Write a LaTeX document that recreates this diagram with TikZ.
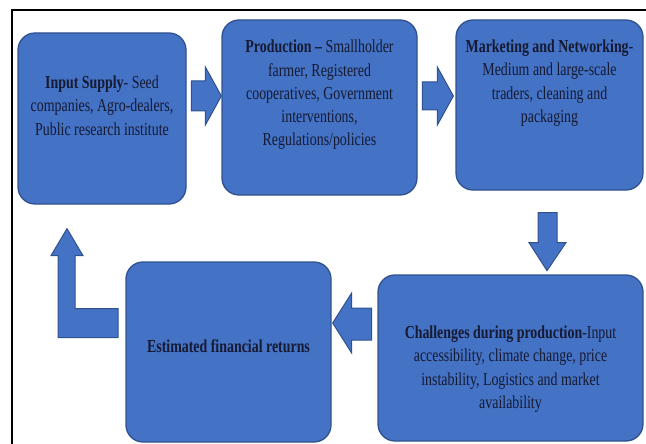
\documentclass[tikz,border=0pt]{standalone}
\usepackage{fontspec}
\setmainfont{Liberation Serif}[FakeStretch=0.76]
\usetikzlibrary{positioning,calc}
\definecolor{boxblue}{HTML}{4472C4}
\definecolor{edgeblue}{HTML}{2F528F}
\definecolor{inkblue}{HTML}{161A33}

\begin{document}
\begin{tikzpicture}[
  x=1pt, y=-1pt,
  blk/.style   ={draw=edgeblue, fill=boxblue, rounded corners=17pt, line width=1.3pt, inner sep=0pt},
  txt/.style   ={text=inkblue, align=center, inner sep=0pt, font=\fontsize{18.3}{23.3}\selectfont},
  barrow/.style={draw=edgeblue, fill=boxblue, line width=1pt, line join=miter},
  frame/.style ={draw=black, line width=1.2pt},
]
\useasboundingbox (0,0) rectangle (646,444);

% Outer frame -- top and left edge only.
\draw[frame] (12,444) -- (12,10) -- (646,10);

% Top row of stages.
\node[blk, minimum width=168pt, minimum height=171pt] (inp)  at (102,118.5) {};
\node[blk, minimum width=195pt, minimum height=175pt] (prod) at (319.5,107.5) {};
\node[blk, minimum width=187pt, minimum height=170pt] (mkt)  at (549.5,105) {};

% Bottom row of stages.
\node[blk, minimum width=265pt, minimum height=166pt] (chal) at (510.5,358) {};
\node[blk, minimum width=205pt, minimum height=180pt] (est)  at (228.5,352) {};

% Texts, set a little off the box centres as in the source.
\node[txt] (inptxt)  at ($(inp.center)+(0,-13)$)
  {\textbf{Input Supply}- Seed\\companies, Agro-dealers,\\Public research institute};
\node[txt] (prodtxt) at ($(prod.center)+(0,-12.5)$)
  {\textbf{Production –} Smallholder\\farmer, Registered\\cooperatives, Government\\interventions,\\Regulations/policies};
\node[txt] (mkttxt)  at ($(mkt.center)+(0,-22)$)
  {\textbf{Marketing and Networking}-\\Medium and large-scale\\traders, cleaning and\\packaging};
\node[txt] (chaltxt) at ($(chal.center)+(0,11)$)
  {\textbf{Challenges during production}-Input\\accessibility, climate change, price\\instability, Logistics and market\\availability};
\node[txt] (esttxt)  at ($(est.center)+(0,-6)$)
  {\textbf{Estimated financial returns}};

% Arrow tips.
\coordinate (t1) at ($(prod.west)+(0,-11.5)$);
\coordinate (t2) at ($(mkt.west)+(-2,-9)$);
\coordinate (t3) at ($(mkt.south)+(-2.5,80)$);
\coordinate (t4) at ($(est.east)+(1,-29)$);
\coordinate (t5) at ($(inp.south)+(-35,24)$);

% Block arrows.
\filldraw[barrow] (t1) -- ++(-16,-29) -- ++(0,14) -- ++(-14,0) -- ++(0,30) -- ++(14,0) -- ++(0,14) -- cycle;
\filldraw[barrow] (t2) -- ++(-16,-29) -- ++(0,15) -- ++(-15,0) -- ++(0,28) -- ++(15,0) -- ++(0,15) -- cycle;
\filldraw[barrow] (t3) -- ++(-18,-28) -- ++(9,0) -- ++(0,-30) -- ++(19,0) -- ++(0,30) -- ++(9,0) -- cycle;
\filldraw[barrow] (t4) -- ++(19,-30) -- ++(0,15) -- ++(20,0) -- ++(0,32) -- ++(-20,0) -- ++(0,13) -- cycle;
\filldraw[barrow] (t5) -- ++(16,27) -- ++(-8,0) -- ++(0,53) -- ++(43,0) -- ++(0,29) -- ++(-60,0) -- ++(0,-82) -- ++(-7,0) -- cycle;
\end{tikzpicture}
\end{document}
